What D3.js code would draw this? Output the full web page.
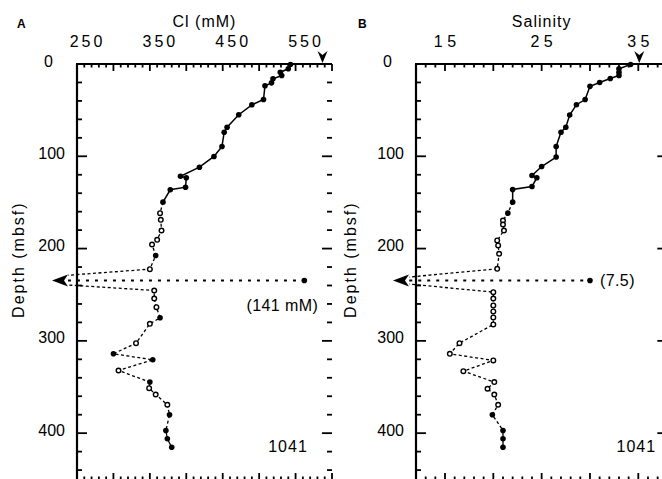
<!DOCTYPE html>
<html><head><meta charset="utf-8">
<script src="https://cdn.jsdelivr.net/npm/d3@7"></script>
<style>body{margin:0;background:#fff}</style>
</head><body>
<svg id="c" width="662" height="479"></svg>
<script>
// ---------- data ----------
const depthTicks = [0, 100, 200, 300, 400];
const clTicks = [250, 350, 450, 550];
const clTickLabels = ["250", "350", "450", "550"];
const salTicks = [15, 25, 35];
const salTickLabels = ["1 5", "2 5", "3 5"];

const depthA = [0.5,5.2,8.9,12.5,16.0,20.4,23.6,38.5,44.2,55.0,68.5,73.9,89.4,100.2,111.8,121.6,123.3,133.5,136.3,149.7,
  161.6,168.8,180.4,190.5,195.6,207.5,222.3,245.4,254.1,263.5,275.0,281.5,302.5,314.0,320.5,332.1,344.7,351.3,358.1,369.2,380.1,397.1,406.1,415.2];
const clA = [543,540,529,531,519,517,508,506,490,472,456,452,449,438,418,392,400,399,378,368,
  364,365,366,360,353,358,350,356,356,359,364,350,331,300,354,307,350,349,358,374,377,372,374,380];
const markA = ["f","f","f","f","f","f","f","f","f","f","f","f","f","f","f","f","f","f","f","f",
  "o","o","o","o","o","f","o","o","o","o","f","o","o","f","f","o","f","o","o","o","f","f","f","f"];

const depthB = [0.5,5.2,8.9,12.5,15.7,20.0,24.2,38.5,44.1,55.3,68.5,73.9,89.4,100.8,111.1,120.8,123.3,132.7,136.0,149.7,
  161.6,169.6,173.9,180.4,191.2,196.6,205.6,221.9,247.2,254.1,261.6,268.1,274.6,282.2,302.5,314.0,321.2,332.8,344.7,351.9,358.1,369.2,380.1,397.1,406.1,415.2];
const salB = [34.2,33.0,33.0,33.0,32.1,31.0,30.0,29.5,28.6,27.9,27.5,27.0,26.5,26.5,25.0,24.0,24.5,24.0,22.0,22.0,
  21.5,21.0,21.0,21.1,20.4,20.5,20.6,20.4,20.0,20.0,20.0,20.0,20.0,20.0,16.5,15.5,20.0,16.9,20.1,19.4,20.1,20.5,19.9,21.0,21.0,21.0];
const markB = ["f","f","f","f","f","f","f","f","f","f","f","f","f","f","f","f","f","f","f","f",
  "f","o","o","o","o","o","o","o","o","o","o","o","o","o","o","o","o","o","o","o","o","o","f","f","f","f"];

// off-scale sample (arrow) and its plotted marker
const offDepth = 234.6;
const clOff = 141, salOff = 7.5;
const clOutlierPlot = 562, salOutlierPlot = 30.0;
const clSeawater = 587, salSeawater = 35.1;
const siteName = "1041";

// ---------- layout ----------
const font = "'Liberation Sans', Arial, Helvetica, sans-serif";
const svg = d3.select("#c");
const yS = d3.scaleLinear().domain([0, 450]).range([64, 479.3]);
const topY = yS(0), botY = 480;

const panels = [
  { letter: "A", title: "Cl (mM)", x: d3.scaleLinear().domain([250, 600]).range([77, 332]),
    minor: 10, major: 50, ticks: clTicks, tickLabels: clTickLabels, labelDx: 9, labelLS: 3,
    depth: depthA, val: clA, mark: markA, off: clOff, outlier: clOutlierPlot, sea: clSeawater,
    arrowTip: 215.7, arrowBase: 237.6, offLabel: "(141 mM)", offLabelDx: -22, offLabelDy: 25, offAnchor: "middle",
    site: siteName, siteDx: -44, letterDx: -60, depthTitleDx: -59 },
  { letter: "B", title: "Salinity", x: d3.scaleLinear().domain([12, 38]).range([416, 667.3]),
    minor: 1, major: 5, ticks: salTicks, tickLabels: salTickLabels, labelDx: 0, labelLS: 0,
    depth: depthB, val: salB, mark: markB, off: salOff, outlier: salOutlierPlot, sea: salSeawater,
    arrowTip: 9.62, arrowBase: 11.3, offLabel: "(7.5)", offLabelDx: 10, offLabelDy: 0, offAnchor: "start",
    site: siteName, siteDx: -31, letterDx: -58, depthTitleDx: -66 }
];

panels.forEach((p, pi) => {
  const g = svg.append("g");
  const x = p.x;
  const [x0, x1] = x.range();
  const [d0, d1] = x.domain();

  // frame: top and left lines
  g.append("line").attr("x1", x0 - 1).attr("x2", x1).attr("y1", topY).attr("y2", topY)
    .attr("stroke", "#000").attr("stroke-width", 2.2);
  g.append("line").attr("x1", x0).attr("x2", x0).attr("y1", topY).attr("y2", botY + 2)
    .attr("stroke", "#000").attr("stroke-width", 2.2);

  // x ticks (top and bottom, pointing inward)
  const xt = d3.range(d0, d1 + 1e-6, p.minor).map(v => +v.toFixed(4));
  xt.forEach(v => {
    const isMaj = Math.abs(v / p.major - Math.round(v / p.major)) < 1e-6;
    const len = isMaj ? 7 : 3.5;
    const xx = x(v);
    g.append("line").attr("x1", xx).attr("x2", xx).attr("y1", topY).attr("y2", topY + len)
      .attr("stroke", "#000").attr("stroke-width", 1.8);
    g.append("line").attr("x1", xx).attr("x2", xx).attr("y1", botY).attr("y2", botY - len)
      .attr("stroke", "#000").attr("stroke-width", 1.8);
  });
  // depth ticks (left and right, pointing inward)
  d3.range(20, 460, 20).forEach(d => {
    const isMaj = d % 100 === 0;
    const len = isMaj ? 10 : 5;
    const yy = yS(d);
    g.append("line").attr("x1", x0).attr("x2", x0 + len).attr("y1", yy).attr("y2", yy)
      .attr("stroke", "#000").attr("stroke-width", 1.8);
    g.append("line").attr("x1", x1).attr("x2", x1 - len).attr("y1", yy).attr("y2", yy)
      .attr("stroke", "#000").attr("stroke-width", 1.8);
  });

  // x tick labels
  p.ticks.forEach((v, i) => {
    g.append("text").attr("x", x(v) + p.labelDx + p.labelLS / 2).attr("y", 46.5)
      .attr("text-anchor", "middle").attr("font-family", font).attr("font-size", 16)
      .attr("letter-spacing", p.labelLS).text(p.tickLabels[i]);
  });
  // depth tick labels
  depthTicks.forEach(d => {
    g.append("text").attr("x", d === 0 ? x0 - 24 : x0 - 12).attr("y", yS(d) - 3)
      .attr("text-anchor", "end").attr("dominant-baseline", "central")
      .attr("font-family", font).attr("font-size", 16).text(d);
  });

  // titles
  g.append("text").attr("x", x((d0 + d1) / 2)).attr("y", 27)
    .attr("text-anchor", "middle").attr("font-family", font).attr("font-size", 16)
    .attr("letter-spacing", 1).text(p.title);
  g.append("text").attr("x", x0 + p.letterDx).attr("y", 28)
    .attr("font-family", font).attr("font-size", 12).attr("font-weight", "bold").text(p.letter);
  g.append("text").attr("transform", `translate(${x0 + p.depthTitleDx},${yS(212)}) rotate(-90)`)
    .attr("text-anchor", "middle").attr("dominant-baseline", "central")
    .attr("font-family", font).attr("font-size", 16).attr("letter-spacing", 2).text("Depth (mbsf)");

  // seawater arrow at top
  g.append("path").attr("transform", `translate(${x(p.sea)},${topY - 1})`)
    .attr("d", "M0,0 L-5,-12 L0,-8 L5,-12 Z").attr("fill", "#000");

  // series
  const pts = p.depth.map((d, i) => ({ d, v: p.val[i], m: p.mark[i] }));
  const line = d3.line().x(q => x(q.v)).y(q => yS(q.d));
  const topPart = pts.filter(q => q.d <= 150);
  const botPart = pts.filter(q => q.d >= 397);
  // middle part including the off-scale value (clipped at the arrow)
  const midPts = pts.filter(q => q.d >= 149 && q.d <= 398);
  const offIdx = midPts.findIndex(q => q.d > offDepth);
  midPts.splice(offIdx, 0, { d: offDepth, v: p.off, m: "x" });

  const clipId = "clip" + pi;
  svg.append("defs").append("clipPath").attr("id", clipId).append("rect")
    .attr("x", x(p.arrowBase)).attr("y", 0).attr("width", 700).attr("height", 500);

  g.append("path").attr("d", line(topPart)).attr("fill", "none").attr("stroke", "#000").attr("stroke-width", 1.5);
  g.append("path").attr("d", line(midPts)).attr("fill", "none").attr("stroke", "#000")
    .attr("stroke-width", 1.3).attr("stroke-dasharray", "3,2.5").attr("clip-path", `url(#${clipId})`);
  g.append("path").attr("d", line(botPart)).attr("fill", "none").attr("stroke", "#000").attr("stroke-width", 1.3);

  // horizontal dotted line from arrow to plotted outlier
  g.append("line").attr("x1", x(p.arrowBase)).attr("x2", x(p.outlier))
    .attr("y1", yS(offDepth)).attr("y2", yS(offDepth))
    .attr("stroke", "#000").attr("stroke-width", 2).attr("stroke-dasharray", "3,6");
  // left arrowhead
  g.append("path").attr("transform", `translate(${x(p.arrowTip)},${yS(offDepth)})`)
    .attr("d", "M0,0 L16,-6 L12,0 L16,6 Z").attr("fill", "#000");
  // outlier marker
  g.append("circle").attr("cx", x(p.outlier)).attr("cy", yS(offDepth)).attr("r", 2.8).attr("fill", "#000");
  g.append("text").attr("x", x(p.outlier) + p.offLabelDx).attr("y", yS(offDepth) + p.offLabelDy)
    .attr("text-anchor", p.offAnchor).attr("dominant-baseline", "central")
    .attr("font-family", font).attr("font-size", 16).attr("letter-spacing", 0.4).text(p.offLabel);

  // markers
  pts.forEach(q => {
    if (q.m === "f") {
      g.append("circle").attr("cx", x(q.v)).attr("cy", yS(q.d)).attr("r", 2.8).attr("fill", "#000");
    } else {
      g.append("circle").attr("cx", x(q.v)).attr("cy", yS(q.d)).attr("r", 2.3)
        .attr("fill", "#fff").attr("stroke", "#000").attr("stroke-width", 1.4);
    }
  });

  // site label
  g.append("text").attr("x", x1 + p.siteDx).attr("y", yS(414))
    .attr("text-anchor", "middle").attr("dominant-baseline", "central")
    .attr("font-family", font).attr("font-size", 16).attr("letter-spacing", 1).text(p.site);
});
</script>
</body></html>
